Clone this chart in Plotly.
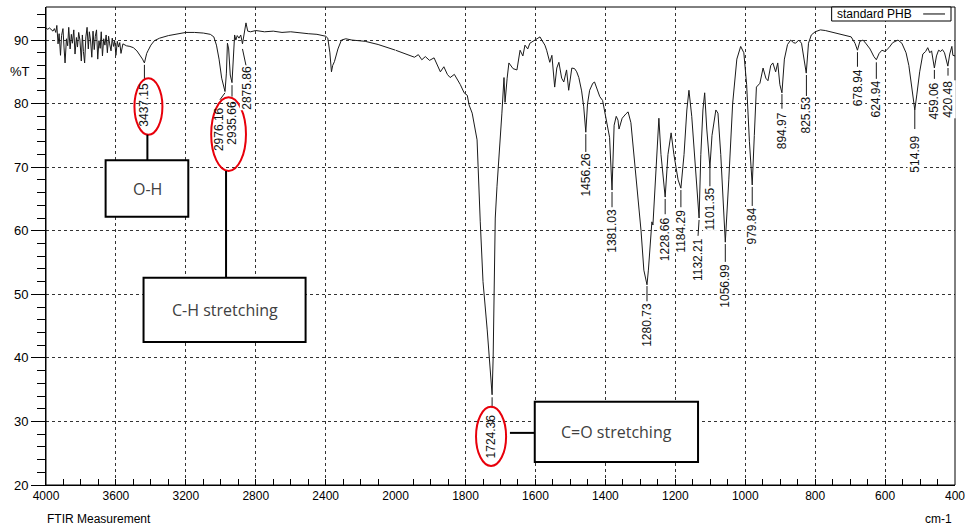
import plotly.graph_objects as go
import numpy as np

# ---------------- data ----------------
wavenumber = [
    4000, 3990, 3980, 3970, 3960, 3952, 3944, 3938, 3931, 3925, 3917, 3911, 3903, 3897, 3891, 3883,
    3876, 3870, 3862, 3855, 3849, 3841, 3834, 3826, 3820, 3813, 3806, 3798, 3792, 3786, 3779, 3772,
    3765, 3758, 3752, 3745, 3738, 3731, 3724, 3718, 3711, 3704, 3697, 3690, 3684, 3677, 3670, 3663,
    3656, 3649, 3642, 3636, 3628, 3621, 3614, 3607, 3600, 3592, 3585, 3578, 3571,
    3560, 3550, 3540, 3520, 3500, 3480, 3462, 3448, 3437, 3430, 3424, 3415, 3400, 3380,
    3350, 3300, 3250, 3200, 3150, 3100, 3060, 3040, 3025, 3010, 2995, 2984, 2976, 2968, 2962, 2955,
    2946, 2936, 2929, 2921, 2914, 2906, 2896, 2886, 2876, 2868, 2856, 2846, 2830, 2800, 2750, 2700,
    2650, 2600, 2550, 2500, 2450, 2400, 2388, 2376, 2367, 2360, 2350, 2330, 2310, 2285, 2250, 2174,
    2100, 2050, 2000,
    1970, 1946, 1935, 1925, 1915, 1903, 1890, 1872, 1862, 1852, 1844, 1832, 1815, 1804, 1795, 1790,
    1781, 1767, 1758, 1750, 1738, 1730, 1724, 1721, 1718, 1715, 1710, 1704, 1696, 1690, 1687, 1681,
    1676, 1664, 1653, 1644, 1636, 1630, 1622, 1616, 1607, 1596, 1587, 1582, 1573, 1568, 1559, 1553,
    1545, 1539, 1533, 1525, 1519, 1511, 1505, 1496, 1488, 1482, 1476, 1468, 1462, 1456, 1451, 1445,
    1436, 1431, 1425, 1416, 1408, 1397, 1388, 1381, 1375, 1369, 1364, 1361, 1352, 1341, 1335, 1327,
    1321, 1312, 1298, 1290, 1281, 1277, 1270, 1267, 1264, 1255, 1247, 1241, 1229, 1221, 1212, 1204,
    1192, 1184, 1175, 1167, 1161, 1153, 1141, 1132, 1127, 1121, 1116, 1110, 1101, 1095, 1084, 1078,
    1070, 1057, 1047, 1036, 1024, 1013, 1004, 996, 988, 980, 974, 968, 958, 949, 941, 935,
    927, 921, 913, 907, 901, 895, 888, 879, 870, 862, 856, 847, 839, 834, 825.5, 819,
    811, 800, 785, 771, 743, 714, 697, 686, 679, 672, 663, 654, 643, 632, 625, 617,
    609, 600, 589, 578, 563, 552, 540, 532, 523, 515, 509, 501, 492, 484, 478, 472,
    467, 459, 453, 447, 441, 436, 430, 420.5, 415, 409, 406, 400,
]
transmittance = [
    91.9, 91.7, 91.9, 91.6, 91.4, 91.8, 91.2, 92.3, 89.4, 91.0, 87.6, 90.7, 91.8, 88.9, 86.4, 90.2,
    89.1, 92.0, 88.6, 90.9, 89.5, 91.6, 87.8, 90.4, 88.9, 91.2, 90.0, 86.7, 90.8, 88.2, 86.4, 90.5,
    92.0, 88.6, 91.3, 89.9, 87.3, 91.4, 88.5, 90.6, 91.6, 87.0, 89.9, 88.7, 91.3, 87.5, 90.2, 89.2,
    90.8, 88.0, 90.6, 89.4, 88.3, 90.3, 89.0, 89.9, 87.6, 89.8, 88.9, 89.6, 87.9,
    89.4, 89.2, 89.1, 89.0, 88.8, 88.3, 87.6, 87.0, 86.4, 87.3, 87.9, 88.4, 89.2, 89.9,
    90.3, 90.7, 91.0, 91.2, 91.2, 91.1, 90.9, 90.5, 89.2, 87.0, 84.0, 82.6, 81.9, 84.8, 89.5, 88.6,
    84.5, 83.3, 86.5, 90.8, 90.0, 90.7, 90.3, 90.8, 89.4, 90.6, 92.7, 91.4, 91.3, 91.5, 91.3, 91.4,
    91.2, 91.3, 91.1, 91.0, 90.9, 90.6, 90.3, 88.0, 85.0, 86.0, 86.6, 88.6, 90.0, 90.2, 90.0, 89.8,
    89.3, 88.9, 88.4,
    87.8, 87.3, 87.7, 86.9, 87.4, 86.8, 87.2, 85.0, 85.8, 84.6, 84.1, 84.6, 83.0, 81.7, 81.3, 79.8,
    78.5, 74.3, 61.5, 52.0, 44.4, 38.0, 34.2, 40.0, 50.0, 62.0, 67.0, 71.6, 78.5, 84.1, 80.2, 84.0,
    86.4, 85.5, 85.3, 88.4, 87.5, 89.2, 88.6, 89.5, 89.8, 90.3, 90.5, 90.0, 89.2, 88.4, 86.5, 87.6,
    82.6, 85.6, 86.5, 84.0, 83.4, 85.3, 82.1, 85.6, 85.5, 85.0, 84.1, 82.0, 79.5, 75.5, 80.0, 82.1,
    83.2, 83.4, 82.5, 81.1, 80.5, 77.4, 74.7, 66.4, 76.6, 78.0, 77.4, 76.0, 77.7, 78.4, 78.7, 77.0,
    73.5, 67.0, 60.0, 53.8, 51.5, 53.8, 60.1, 61.4, 60.9, 69.5, 77.7, 72.0, 65.3, 72.0, 75.4, 72.0,
    68.0, 66.7, 72.0, 79.0, 82.1, 78.0, 68.0, 62.0, 72.0, 79.0, 81.7, 76.0, 70.0, 75.0, 79.0, 78.5,
    72.0, 58.2, 68.0, 80.0, 87.0, 89.0, 88.0, 83.0, 74.0, 67.2, 75.0, 82.6, 83.2, 85.6, 84.0, 83.6,
    86.0, 86.4, 85.0, 86.4, 83.0, 81.7, 87.0, 89.3, 90.0, 89.6, 89.5, 90.0, 89.5, 88.0, 84.8, 89.5,
    90.8, 91.3, 91.6, 91.5, 91.1, 90.8, 90.5, 89.5, 88.4, 89.8, 90.0, 89.4, 88.6, 87.4, 86.9, 87.9,
    88.4, 88.2, 88.8, 89.6, 90.0, 89.5, 88.0, 86.0, 82.6, 79.0, 81.5, 85.0, 87.8, 88.2, 88.8, 88.0,
    88.3, 85.6, 87.5, 88.4, 88.2, 88.5, 88.0, 85.9, 87.8, 89.0, 87.6, 87.5,
]

# peak labels
peak_text = ["3437.15", "2976.16", "2935.66", "2875.86", "1724.36", "1456.26", "1381.03",
             "1280.73", "1228.66", "1184.29", "1132.21", "1101.35", "1056.99", "979.84",
             "894.97", "825.53", "678.94", "624.94", "514.99", "459.06", "420.48"]
peak_wn = [3437.15, 2976.16, 2935.66, 2875.86, 1724.36, 1456.26, 1381.03, 1280.73, 1228.66,
           1184.29, 1132.21, 1101.35, 1056.99, 979.84, 894.97, 825.53, 678.94, 624.94,
           514.99, 459.06, 420.48]

x_ticks_left = [4000, 3600, 3200, 2800, 2400]
x_ticks_right = [2000, 1800, 1600, 1400, 1200, 1000, 800, 600, 400]
y_ticks = [20, 30, 40, 50, 60, 70, 80, 90]

# ---------------- layout of the labels (positions only) ----------------
label_x = [3437, 3010, 2936, 2850, 1726, 1456, 1381, 1281, 1229, 1184, 1135, 1101, 1057, 980,
           895, 825, 679, 625, 515, 459, 420]
label_y = [79.9, 76.0, 77.0, 82.5, 27.7, 68.8, 60.0, 45.2, 58.7, 60.0, 55.4, 63.5, 51.4, 60.7,
           75.8, 78.2, 82.5, 80.7, 72.1, 80.4, 80.6]
conn = [  # x0, y0, x1, y1
    (3437, 86.1, 3437, 83.7), (2976, 81.7, 3005, 80.6), (2936, 82.9, 2936, 81.1),
    (2876, 88.6, 2852, 85.5), (1724, 33.8, 1724, 32.1), (1456, 75.2, 1456, 72.4),
    (1381, 66.1, 1381, 63.7), (1281, 51.3, 1281, 48.9), (1229, 65.0, 1229, 62.6),
    (1184, 66.4, 1184, 63.7), (1132, 61.7, 1135, 59.2), (1101, 69.9, 1101, 67.0),
    (1057, 57.9, 1057, 55.1), (980, 66.9, 980, 63.9), (895, 81.5, 895, 79.2),
    (825, 84.5, 825, 81.2), (679, 88.1, 679, 85.8), (625, 86.5, 625, 83.9),
    (515, 79.0, 515, 76.0), (459, 85.3, 459, 83.9), (420, 85.6, 420, 84.4),
]
in_ellipse = {"3437.15", "2976.16", "2935.66", "1724.36"}

wn = np.array(wavenumber)
tr = np.array(transmittance)
m1 = wn >= 2000
m2 = wn <= 2000

fig = go.Figure()
line_style = dict(color="#1a1a1a", width=1)
fig.add_trace(go.Scatter(x=wn[m1], y=tr[m1], mode="lines", line=line_style,
                         xaxis="x", yaxis="y", showlegend=False, hoverinfo="skip"))
fig.add_trace(go.Scatter(x=wn[m2], y=tr[m2], mode="lines", line=line_style,
                         xaxis="x2", yaxis="y", showlegend=False, hoverinfo="skip"))

split = 5 / 13
tickfont_x = dict(family="Liberation Sans Narrow, Arial Narrow, Liberation Sans, Arial", size=12, color="black")
grid_style = dict(showgrid=True, gridcolor="#333333", griddash="dot", gridwidth=1)
common_x = dict(showline=True, linecolor="black", linewidth=1, ticks="inside", ticklen=6,
                tickcolor="black", zeroline=False, tickfont=tickfont_x, anchor="y",
                layer="below traces", **grid_style)

fig.update_layout(
    width=972, height=531,
    margin=dict(l=46, r=12, t=7, b=46),
    paper_bgcolor="white", plot_bgcolor="white",
    xaxis=dict(domain=[0, split], range=[4000, 2000], tickmode="array", tickvals=x_ticks_left,
               minor=dict(tickmode="linear", tick0=4000, dtick=100, ticks="inside", ticklen=6,
                          tickcolor="black", showgrid=False), **common_x),
    xaxis2=dict(domain=[split, 1], range=[2000, 400], tickmode="array", tickvals=x_ticks_right,
                minor=dict(tickmode="linear", tick0=2000, dtick=50, ticks="inside", ticklen=6,
                           tickcolor="black", showgrid=False), **common_x),
    yaxis=dict(range=[20, 95.2], tickmode="array", tickvals=y_ticks, ticks="outside", ticklen=14,
               tickcolor="black", showline=True, linecolor="black", linewidth=1, zeroline=False,
               minor=dict(tickmode="linear", tick0=20, dtick=2, ticks="outside", ticklen=8,
                          tickcolor="black", showgrid=False),
               tickfont=dict(family="Liberation Sans, Arial", size=13, color="black"),
               **grid_style),
)

shapes = []
annotations = []

def xr(w):
    return "x" if w >= 2000 else "x2"

# frame
shapes.append(dict(type="rect", xref="paper", yref="paper", x0=0, x1=1, y0=0, y1=1,
                   line=dict(color="black", width=1)))

# peak labels and connectors
for t, lx, ly, (cx0, cy0, cx1, cy1) in zip(peak_text, label_x, label_y, conn):
    shapes.append(dict(type="line", xref=xr(cx0), yref="y", x0=cx0, y0=cy0, x1=cx1, y1=cy1,
                       line=dict(color="#1a1a1a", width=1)))
    ann = dict(text=t, x=lx, y=ly, xref=xr(lx), yref="y", textangle=-90,
               showarrow=False, xanchor="center", yanchor="middle", borderpad=0,
               font=dict(family="Liberation Sans, Arial", size=12, color="#111"))
    if t not in in_ellipse:
        ann["bgcolor"] = "white"
    annotations.append(ann)

# red ellipses
red = dict(color="#e8000b", width=2)
shapes.append(dict(type="circle", xref="x", yref="y", x0=3494, x1=3334, y0=75.1, y1=84.0, line=red))
shapes.append(dict(type="circle", xref="x", yref="y", x0=3055, x1=2856, y0=69.4, y1=81.0, line=red))
shapes.append(dict(type="circle", xref="x2", yref="y", x0=1770, x1=1684, y0=23.0, y1=32.3, line=red))

# callout boxes
blk = dict(color="black", width=2)
box_font = dict(family="Open Sans, Noto Sans, sans-serif", size=16, color="#404040")
# O-H
shapes.append(dict(type="line", xref="x", yref="y", x0=3420, x1=3420, y0=75.1, y1=71.1, line=blk))
shapes.append(dict(type="rect", xref="x", yref="y", x0=3659, x1=3186, y0=62.2, y1=71.1,
                   line=blk, fillcolor="white"))
annotations.append(dict(text="O-H", x=3422, y=66.6, xref="x", yref="y", showarrow=False, font=box_font))
# C-H stretching
shapes.append(dict(type="line", xref="x", yref="y", x0=2970, x1=2970, y0=69.4, y1=52.6, line=blk))
shapes.append(dict(type="rect", xref="x", yref="y", x0=3442, x1=2515, y0=42.5, y1=52.6,
                   line=blk, fillcolor="white"))
annotations.append(dict(text="C-H stretching", x=2978, y=47.5, xref="x", yref="y", showarrow=False, font=box_font))
# C=O stretching
shapes.append(dict(type="line", xref="x2", yref="y", x0=1673, x1=1602, y0=28.2, y1=28.2, line=blk))
shapes.append(dict(type="rect", xref="x2", yref="y", x0=1602, x1=1135, y0=23.6, y1=33.1,
                   line=blk, fillcolor="white"))
annotations.append(dict(text="C=O stretching", x=1368, y=28.3, xref="x2", yref="y", showarrow=False, font=box_font))

# legend box (text then line sample)
shapes.append(dict(type="rect", xref="paper", yref="paper", x0=0.8643, x1=0.9956, y0=0.9707, y1=1.0,
                   line=dict(color="black", width=1), fillcolor="white"))
shapes.append(dict(type="line", xref="paper", yref="paper", x0=0.965, x1=0.989, y0=0.9854, y1=0.9854,
                   line=dict(color="black", width=1)))
annotations.append(dict(text="standard PHB", x=0.8676, y=0.9854, xref="paper", yref="paper",
                        xanchor="left", yanchor="middle", showarrow=False,
                        font=dict(family="Liberation Sans, Arial", size=12, color="black")))

# axis texts
annotations.append(dict(text="%T", x=-0.0284, y=85.0, xref="paper", yref="y", showarrow=False,
                        xanchor="center", yanchor="middle",
                        font=dict(family="Liberation Sans, Arial", size=13, color="black")))
annotations.append(dict(text="FTIR Measurement", x=-0.001, y=-0.072, xref="paper", yref="paper",
                        xanchor="left", yanchor="middle", showarrow=False, font=tickfont_x))
annotations.append(dict(text="cm-1", x=0.999, y=-0.072, xref="paper", yref="paper",
                        xanchor="right", yanchor="middle", showarrow=False, font=tickfont_x))

fig.update_layout(shapes=shapes, annotations=annotations)
fig.write_html("out.html")
